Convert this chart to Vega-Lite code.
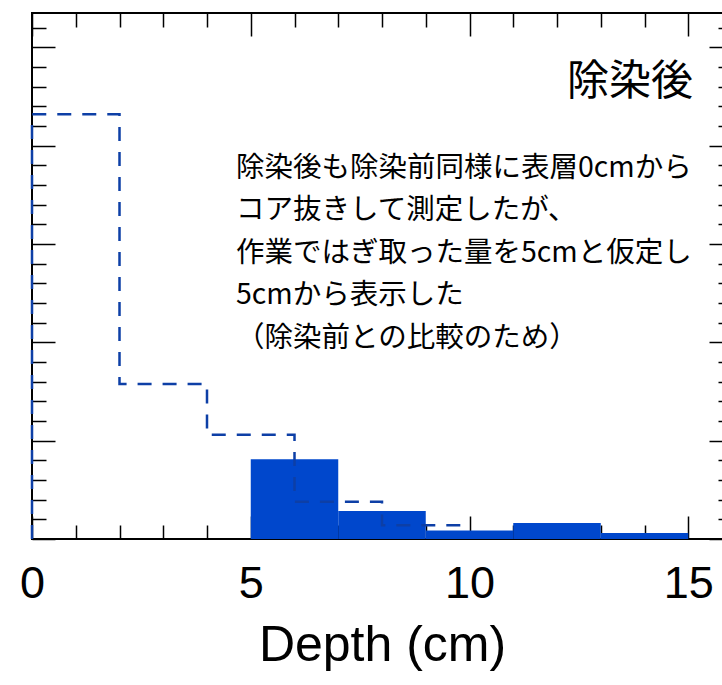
{
  "$schema": "https://vega.github.io/schema/vega-lite/v6.json",
  "autosize": {"type": "none"},
  "width": 700,
  "height": 526,
  "padding": {"left": 32, "top": 13, "right": 0, "bottom": 146},
  "background": "white",
  "config": {
    "view": {"stroke": "black", "strokeWidth": 2},
    "axis": {"domain": false, "grid": false, "tickColor": "black", "tickWidth": 1.5, "labelColor": "black", "titleColor": "black"}
  },
  "datasets": {
    "after": [
      {"d0": 5, "d1": 7, "after": 0.81},
      {"d0": 7, "d1": 9, "after": 0.285},
      {"d0": 9, "d1": 11, "after": 0.087},
      {"d0": 11, "d1": 13, "after": 0.163},
      {"d0": 13, "d1": 15, "after": 0.061}
    ],
    "before": [
      {"i": 0, "depth": 0, "before": 0},
      {"i": 1, "depth": 0, "before": 4.32},
      {"i": 2, "depth": 2, "before": 1.577},
      {"i": 3, "depth": 4, "before": 1.06},
      {"i": 4, "depth": 6, "before": 0.38},
      {"i": 5, "depth": 8, "before": 0.14},
      {"i": 6, "depth": 10, "before": 0.14}
    ],
    "title": [{"x": 15.11, "y": 4.652, "label": "除染後"}],
    "note": [{"x": 4.663, "y": 3.92, "label": "除染後も除染前同様に表層0cmから\nコア抜きして測定したが、\n作業ではぎ取った量を5cmと仮定し\n5cmから表示した\n（除染前との比較のため）"}]
  },
  "layer": [
    {
      "data": {"name": "after"},
      "mark": {"type": "rect", "color": "#0047CC"},
      "encoding": {
        "x": {"field": "d0", "type": "quantitative",
          "scale": {"domain": [0, 16], "nice": false, "zero": false},
          "axis": {"orient": "bottom", "values": [0, 5, 10, 15], "tickSize": -23, "labelFontSize": 45, "labelFont": "Liberation Sans", "labelPadding": 45, "labelFlush": false,
            "title": "Depth (cm)", "titleFontSize": 50, "titleFont": "Liberation Sans", "titleFontWeight": "normal", "titlePadding": 14}},
        "x2": {"field": "d1"},
        "y": {"field": "after", "type": "quantitative",
          "scale": {"domain": [0, 5.35], "nice": false, "zero": false},
          "axis": {"orient": "left", "values": [0, 1, 2, 3, 4, 5], "tickSize": -23, "labels": false, "title": null}},
        "y2": {"datum": 0}
      }
    },
    {
      "data": {"name": "before"},
      "mark": {"type": "line", "interpolate": "step-after", "color": "#0D3FA6", "strokeWidth": 2.5, "strokeDash": [14, 11]},
      "encoding": {
        "x": {"field": "depth", "type": "quantitative",
          "axis": {"orient": "bottom", "values": [1, 2, 3, 4, 6, 7, 8, 9, 11, 12, 13, 14], "tickSize": -14, "labels": false, "title": null}},
        "y": {"field": "before", "type": "quantitative",
          "axis": {"orient": "left", "values": [0.2, 0.4, 0.6, 0.8, 1.2, 1.4, 1.6, 1.8, 2.2, 2.4, 2.6, 2.8, 3.2, 3.4, 3.6, 3.8, 4.2, 4.4, 4.6, 4.8, 5.2], "tickSize": -14, "labels": false, "title": null}},
        "order": {"field": "i", "type": "quantitative"}
      }
    },
    {
      "data": {"name": "title"},
      "mark": {"type": "text", "align": "right", "baseline": "middle", "fontSize": 42, "font": "Noto Sans CJK JP", "color": "black"},
      "encoding": {
        "x": {"field": "x", "type": "quantitative",
          "axis": {"orient": "top", "values": [0, 5, 10, 15], "tickSize": -23, "labels": false, "title": null}},
        "y": {"field": "y", "type": "quantitative",
          "axis": {"orient": "right", "values": [0, 1, 2, 3, 4, 5], "tickSize": -23, "labels": false, "title": null}},
        "text": {"field": "label"}
      }
    },
    {
      "data": {"name": "note"},
      "mark": {"type": "text", "align": "left", "baseline": "top", "fontSize": 28.5, "lineHeight": 42.5, "lineBreak": "\n", "font": "Noto Sans CJK JP", "color": "black"},
      "encoding": {
        "x": {"field": "x", "type": "quantitative",
          "axis": {"orient": "top", "values": [1, 2, 3, 4, 6, 7, 8, 9, 11, 12, 13, 14], "tickSize": -14, "labels": false, "title": null}},
        "y": {"field": "y", "type": "quantitative",
          "axis": {"orient": "right", "values": [0.2, 0.4, 0.6, 0.8, 1.2, 1.4, 1.6, 1.8, 2.2, 2.4, 2.6, 2.8, 3.2, 3.4, 3.6, 3.8, 4.2, 4.4, 4.6, 4.8, 5.2], "tickSize": -14, "labels": false, "title": null}},
        "text": {"field": "label"}
      }
    }
  ],
  "resolve": {"axis": {"x": "independent", "y": "independent"}}
}
